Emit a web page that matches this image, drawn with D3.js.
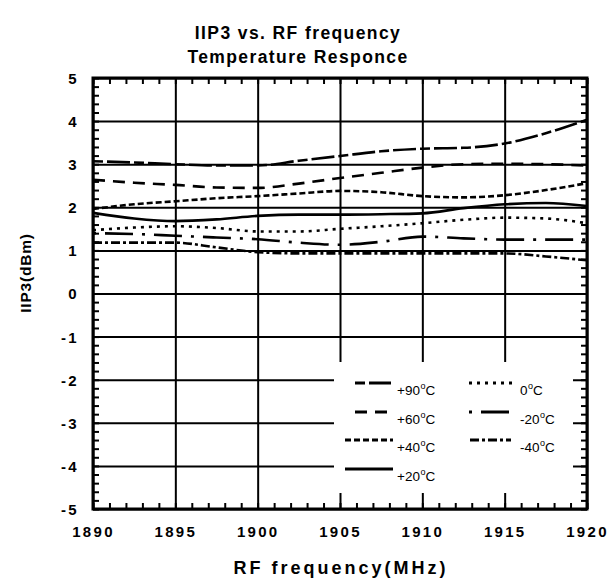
<!DOCTYPE html>
<html>
<head>
<meta charset="utf-8">
<script src="https://cdn.jsdelivr.net/npm/d3@7/dist/d3.min.js"></script>
<style>
  html, body { margin: 0; padding: 0; background: #fff; }
  svg { display: block; }
  text { font-family: "Liberation Sans", Arial, sans-serif; fill: #000; }
</style>
</head>
<body>
<svg id="chart" width="610" height="584"></svg>
<script>
// ---- data ----
const freqs = [1890, 1892.5, 1895, 1897.5, 1900, 1902.5, 1905, 1907.5, 1910, 1912.5, 1915, 1917.5, 1920];
const p90 = [3.07, 3.04, 3.0, 2.97, 2.97, 3.08, 3.19, 3.3, 3.36, 3.38, 3.48, 3.72, 4.03];
const p60 = [2.64, 2.57, 2.52, 2.46, 2.45, 2.55, 2.68, 2.8, 2.92, 3.0, 3.01, 3.0, 2.97];
const p40 = [1.96, 2.07, 2.14, 2.21, 2.26, 2.32, 2.38, 2.35, 2.26, 2.23, 2.28, 2.4, 2.56];
const p20 = [1.87, 1.74, 1.68, 1.72, 1.8, 1.83, 1.83, 1.84, 1.86, 1.98, 2.07, 2.1, 2.03];
const z0  = [1.47, 1.53, 1.56, 1.52, 1.44, 1.44, 1.5, 1.56, 1.63, 1.71, 1.76, 1.74, 1.63];
const m20 = [1.4, 1.38, 1.34, 1.3, 1.26, 1.18, 1.13, 1.2, 1.32, 1.28, 1.25, 1.25, 1.25];
const m40 = [1.18, 1.18, 1.18, 1.07, 0.96, 0.93, 0.93, 0.93, 0.93, 0.93, 0.93, 0.86, 0.77];
const seriesNames = ["+90", "+60", "+40", "+20", "0", "-20", "-40"];
const seriesValues = [p90, p60, p40, p20, z0, m20, m40];
const xTicks = [1890, 1895, 1900, 1905, 1910, 1915, 1920];
const yTicks = [-5, -4, -3, -2, -1, 0, 1, 2, 3, 4, 5];
const titleLines = ["IIP3 vs. RF frequency", "Temperature Responce"];
const xTitle = "RF frequency(MHz)";
const yTitle = "IIP3(dBm)";

// ---- styles ----
const dashes = {
  "+90": "10,4,23,4",
  "+60": "12,8",
  "+40": "6,3",
  "+20": null,
  "0": "3,5",
  "-20": "3,9,28,9",
  "-40": "9,3,3,3"
};

const svg = d3.select("#chart");
const L = 93, R = 587, T = 78, B = 509;
const x = d3.scaleLinear().domain([1890, 1920]).range([L, R]);
const y = d3.scaleLinear().domain([-5, 5]).range([B, T]);

// Title
titleLines.forEach((t, i) => {
  svg.append("text").attr("x", 298).attr("y", 38.5 + i * 24.5)
    .attr("text-anchor", "middle").attr("font-size", 17.5).attr("font-weight", "bold")
    .attr("letter-spacing", 1.4).text(t);
});

// Gridlines
const gx = svg.append("g").attr("transform", `translate(0,${B})`)
  .call(d3.axisBottom(x).tickValues(xTicks).tickSize(-(B - T)).tickFormat(""));
gx.select(".domain").remove();
gx.selectAll("line").attr("stroke", "#000").attr("stroke-width", 2);
const gy = svg.append("g").attr("transform", `translate(${L},0)`)
  .call(d3.axisLeft(y).tickValues(yTicks).tickSize(-(R - L)).tickFormat(""));
gy.select(".domain").remove();
gy.selectAll("line").attr("stroke", "#000").attr("stroke-width", 2);

// Minor ticks
const minorX = d3.range(1890, 1921, 1);
const minorY = d3.range(-50, 51, 2).map(v => v / 10);
function minor(g) { g.select(".domain").remove(); g.selectAll("line").attr("stroke", "#000").attr("stroke-width", 2); }
svg.append("g").attr("transform", `translate(0,${B})`).call(d3.axisBottom(x).tickValues(minorX).tickSize(-6).tickFormat("")).call(minor);
svg.append("g").attr("transform", `translate(0,${T})`).call(d3.axisTop(x).tickValues(minorX).tickSize(-6).tickFormat("")).call(minor);
svg.append("g").attr("transform", `translate(${L},0)`).call(d3.axisLeft(y).tickValues(minorY).tickSize(-6).tickFormat("")).call(minor);
svg.append("g").attr("transform", `translate(${R},0)`).call(d3.axisRight(y).tickValues(minorY).tickSize(-6).tickFormat("")).call(minor);

// Data lines
const line = d3.line().x(d => x(d[0])).y(d => y(d[1])).curve(d3.curveMonotoneX);
seriesNames.forEach((n, i) => {
  const pts = freqs.map((f, j) => [f, seriesValues[i][j]]);
  svg.append("path").attr("d", line(pts)).attr("fill", "none")
    .attr("stroke", "#000").attr("stroke-width", 2.6)
    .attr("stroke-dasharray", dashes[n]);
});

// Legend
svg.append("rect").attr("x", 334).attr("y", 362).attr("width", 239).attr("height", 131).attr("fill", "#fff");
const legendPos = {
  "+90": [355, 391, 383, 397],
  "+60": [355, 391, 412, 397],
  "+40": [345, 393, 440, 397],
  "+20": [345, 393, 469, 397],
  "0":   [469, 517, 383, 520],
  "-20": [469, 516, 412, 520],
  "-40": [470, 511, 440, 520]
};
seriesNames.forEach(n => {
  const p = legendPos[n];
  svg.append("line").attr("x1", p[0]).attr("x2", p[1]).attr("y1", p[2]).attr("y2", p[2])
    .attr("stroke", "#000").attr("stroke-width", 3).attr("stroke-dasharray", dashes[n]);
  const t = svg.append("text").attr("x", p[3]).attr("y", p[2] + 12).attr("font-size", 13.5);
  t.append("tspan").text(n);
  t.append("tspan").attr("font-size", 9).attr("dy", -6).attr("dx", 0.5).text("o");
  t.append("tspan").attr("dy", 6).text("C");
});

// Border
svg.append("rect").attr("x", L).attr("y", T).attr("width", R - L).attr("height", B - T)
  .attr("fill", "none").attr("stroke", "#000").attr("stroke-width", 3);

// Tick labels
const ax = svg.append("g").attr("transform", `translate(0,${B})`)
  .call(d3.axisBottom(x).tickValues(xTicks).tickSize(0).tickPadding(0).tickFormat(d => String(d)));
ax.select(".domain").remove();
ax.selectAll("text").attr("y", 28).attr("dy", null).attr("font-size", 15).attr("font-weight", "bold")
  .attr("letter-spacing", 2.3).attr("font-family", "Liberation Sans, Arial, sans-serif");
const ay = svg.append("g").attr("transform", `translate(${L},0)`)
  .call(d3.axisLeft(y).tickValues(yTicks).tickSize(0).tickPadding(0).tickFormat(d => String(d)));
ay.select(".domain").remove();
ay.selectAll("text").attr("x", -14).attr("dy", "0.36em").attr("font-size", 15).attr("font-weight", "bold")
  .attr("letter-spacing", 2.3).attr("font-family", "Liberation Sans, Arial, sans-serif");

// Axis titles
svg.append("text").attr("x", 341).attr("y", 574).attr("text-anchor", "middle")
  .attr("font-size", 18).attr("font-weight", "bold").attr("letter-spacing", 3).text(xTitle);
svg.append("text").attr("transform", "translate(31,273) rotate(-90)").attr("text-anchor", "middle")
  .attr("font-size", 15.5).attr("font-weight", "bold").attr("letter-spacing", 0.8).text(yTitle);
</script>
</body>
</html>
